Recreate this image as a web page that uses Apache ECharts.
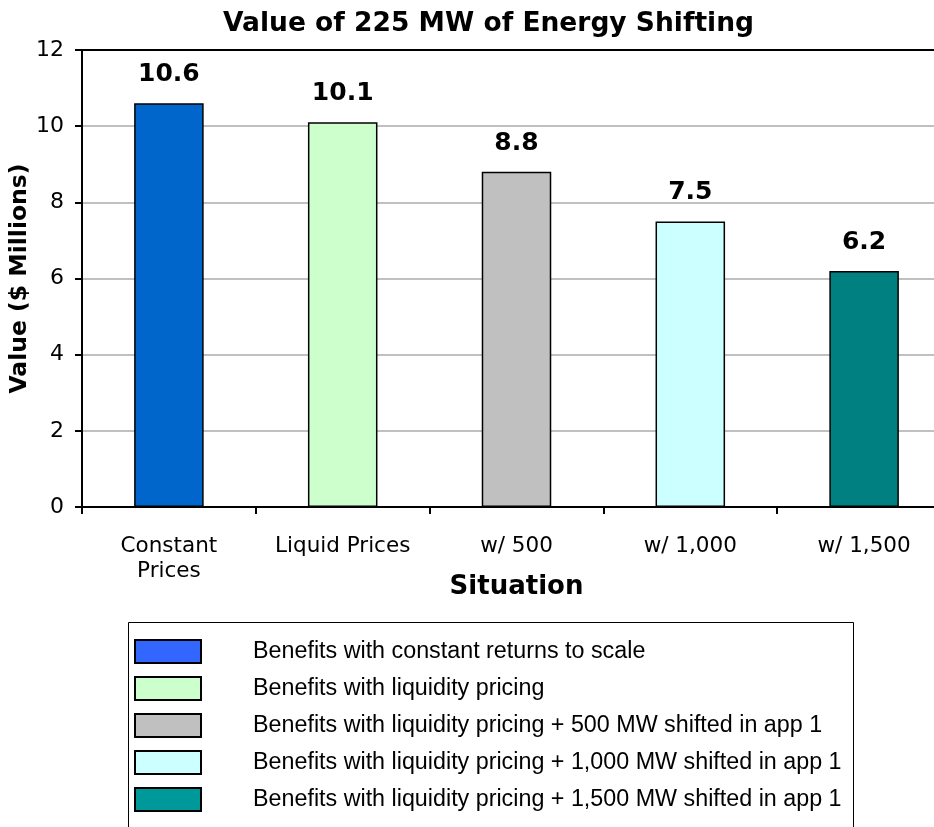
<!DOCTYPE html>
<html>
<head>
<meta charset="utf-8">
<script src="https://cdn.jsdelivr.net/npm/echarts@6/dist/echarts.min.js"></script>
<style>
html,body{margin:0;padding:0;background:#fff;}
#chart{width:934px;height:827px;}
</style>
</head>
<body>
<div id="chart"></div>
<script>
var categories = ['Constant\nPrices', 'Liquid Prices', 'w/ 500', 'w/ 1,000', 'w/ 1,500'];
var values = [10.6, 10.1, 8.8, 7.5, 6.2];
var seriesNames = [
  'Benefits with constant returns to scale',
  'Benefits with liquidity pricing',
  'Benefits with liquidity pricing + 500 MW shifted in app 1',
  'Benefits with liquidity pricing + 1,000 MW shifted in app 1',
  'Benefits with liquidity pricing + 1,500 MW shifted in app 1'
];
var barColors = ['#0066CC', '#CCFFCC', '#C0C0C0', '#CCFFFF', '#008080'];
var legendColors = ['#3366FF', '#CCFFCC', '#C0C0C0', '#CCFFFF', '#009999'];
var yTicks = [0, 2, 4, 6, 8, 10, 12];

var axisFont = '"DejaVu Sans", Tahoma, sans-serif';

var series = seriesNames.map(function (name, i) {
  return {
    name: name,
    type: 'bar',
    stack: 'all',
    barWidth: '40%',
    data: values.map(function (v, j) { return j === i ? v : '-'; }),
    itemStyle: { color: barColors[i], borderColor: '#000', borderWidth: 1.5 },
    label: {
      show: true, position: 'top', distance: 16,
      formatter: function (p) { return p.value.toFixed(1); },
      fontFamily: axisFont, fontWeight: 'bold', fontSize: 25, color: '#000'
    }
  };
});

var chart = echarts.init(document.getElementById('chart'), null, { renderer: 'canvas' });
chart.setOption({
  animation: false,
  backgroundColor: '#fff',
  title: {
    text: 'Value of 225 MW of Energy Shifting',
    left: 218, top: 6,
    textStyle: { fontFamily: axisFont, fontWeight: 'bold', fontSize: 26.5, color: '#000' }
  },
  grid: {
    left: 82, top: 50, bottom: 320, width: 869,
    outerBoundsMode: 'none',
    containLabel: false,
    show: true, borderColor: '#000', borderWidth: 2, backgroundColor: 'transparent'
  },
  legend: {
    orient: 'vertical',
    left: 129, top: 634,
    itemWidth: 66, itemHeight: 23, itemGap: 12,
    icon: 'rect',
    textStyle: { fontFamily: '"Liberation Sans", Arial, sans-serif', fontSize: 23.3, lineHeight: 24, color: '#000', padding: [0, 0, 0, 47] },
    selectedMode: false,
    data: seriesNames.map(function (n, i) {
      return { name: n, itemStyle: { color: legendColors[i], borderColor: '#000', borderWidth: 2 } };
    })
  },
  graphic: [{
    type: 'rect', left: 126, top: 620,
    shape: { width: 725, height: 220 },
    style: { fill: 'none', stroke: '#000', lineWidth: 1 }, z: 0
  }],
  xAxis: {
    type: 'category',
    data: categories,
    name: 'Situation',
    nameLocation: 'middle',
    nameMoveOverlap: false,
    nameGap: 67,
    nameTextStyle: { fontFamily: axisFont, fontWeight: 'bold', fontSize: 26, color: '#000' },
    axisLine: { lineStyle: { color: '#000', width: 2 } },
    axisTick: { show: true, interval: 0, length: 7, lineStyle: { color: '#000', width: 2 } },
    axisLabel: { interval: 0, fontFamily: axisFont, fontSize: 21.5, color: '#000', margin: 27, lineHeight: 25 }
  },
  yAxis: {
    type: 'value',
    min: yTicks[0], max: yTicks[yTicks.length - 1], interval: 2,
    name: 'Value ($ Millions)',
    nameLocation: 'middle',
    nameMoveOverlap: false,
    nameGap: 50,
    nameTextStyle: { fontFamily: axisFont, fontWeight: 'bold', fontSize: 23.5, color: '#000' },
    axisLine: { show: true, lineStyle: { color: '#000', width: 2 } },
    axisTick: { show: true, length: 7, lineStyle: { color: '#000', width: 2 } },
    axisLabel: { fontFamily: axisFont, fontSize: 22, color: '#000', margin: 18 },
    splitLine: { showMaxLine: false, lineStyle: { color: '#C0C0C0', width: 2 } }
  },
  series: series
});
</script>
</body>
</html>
